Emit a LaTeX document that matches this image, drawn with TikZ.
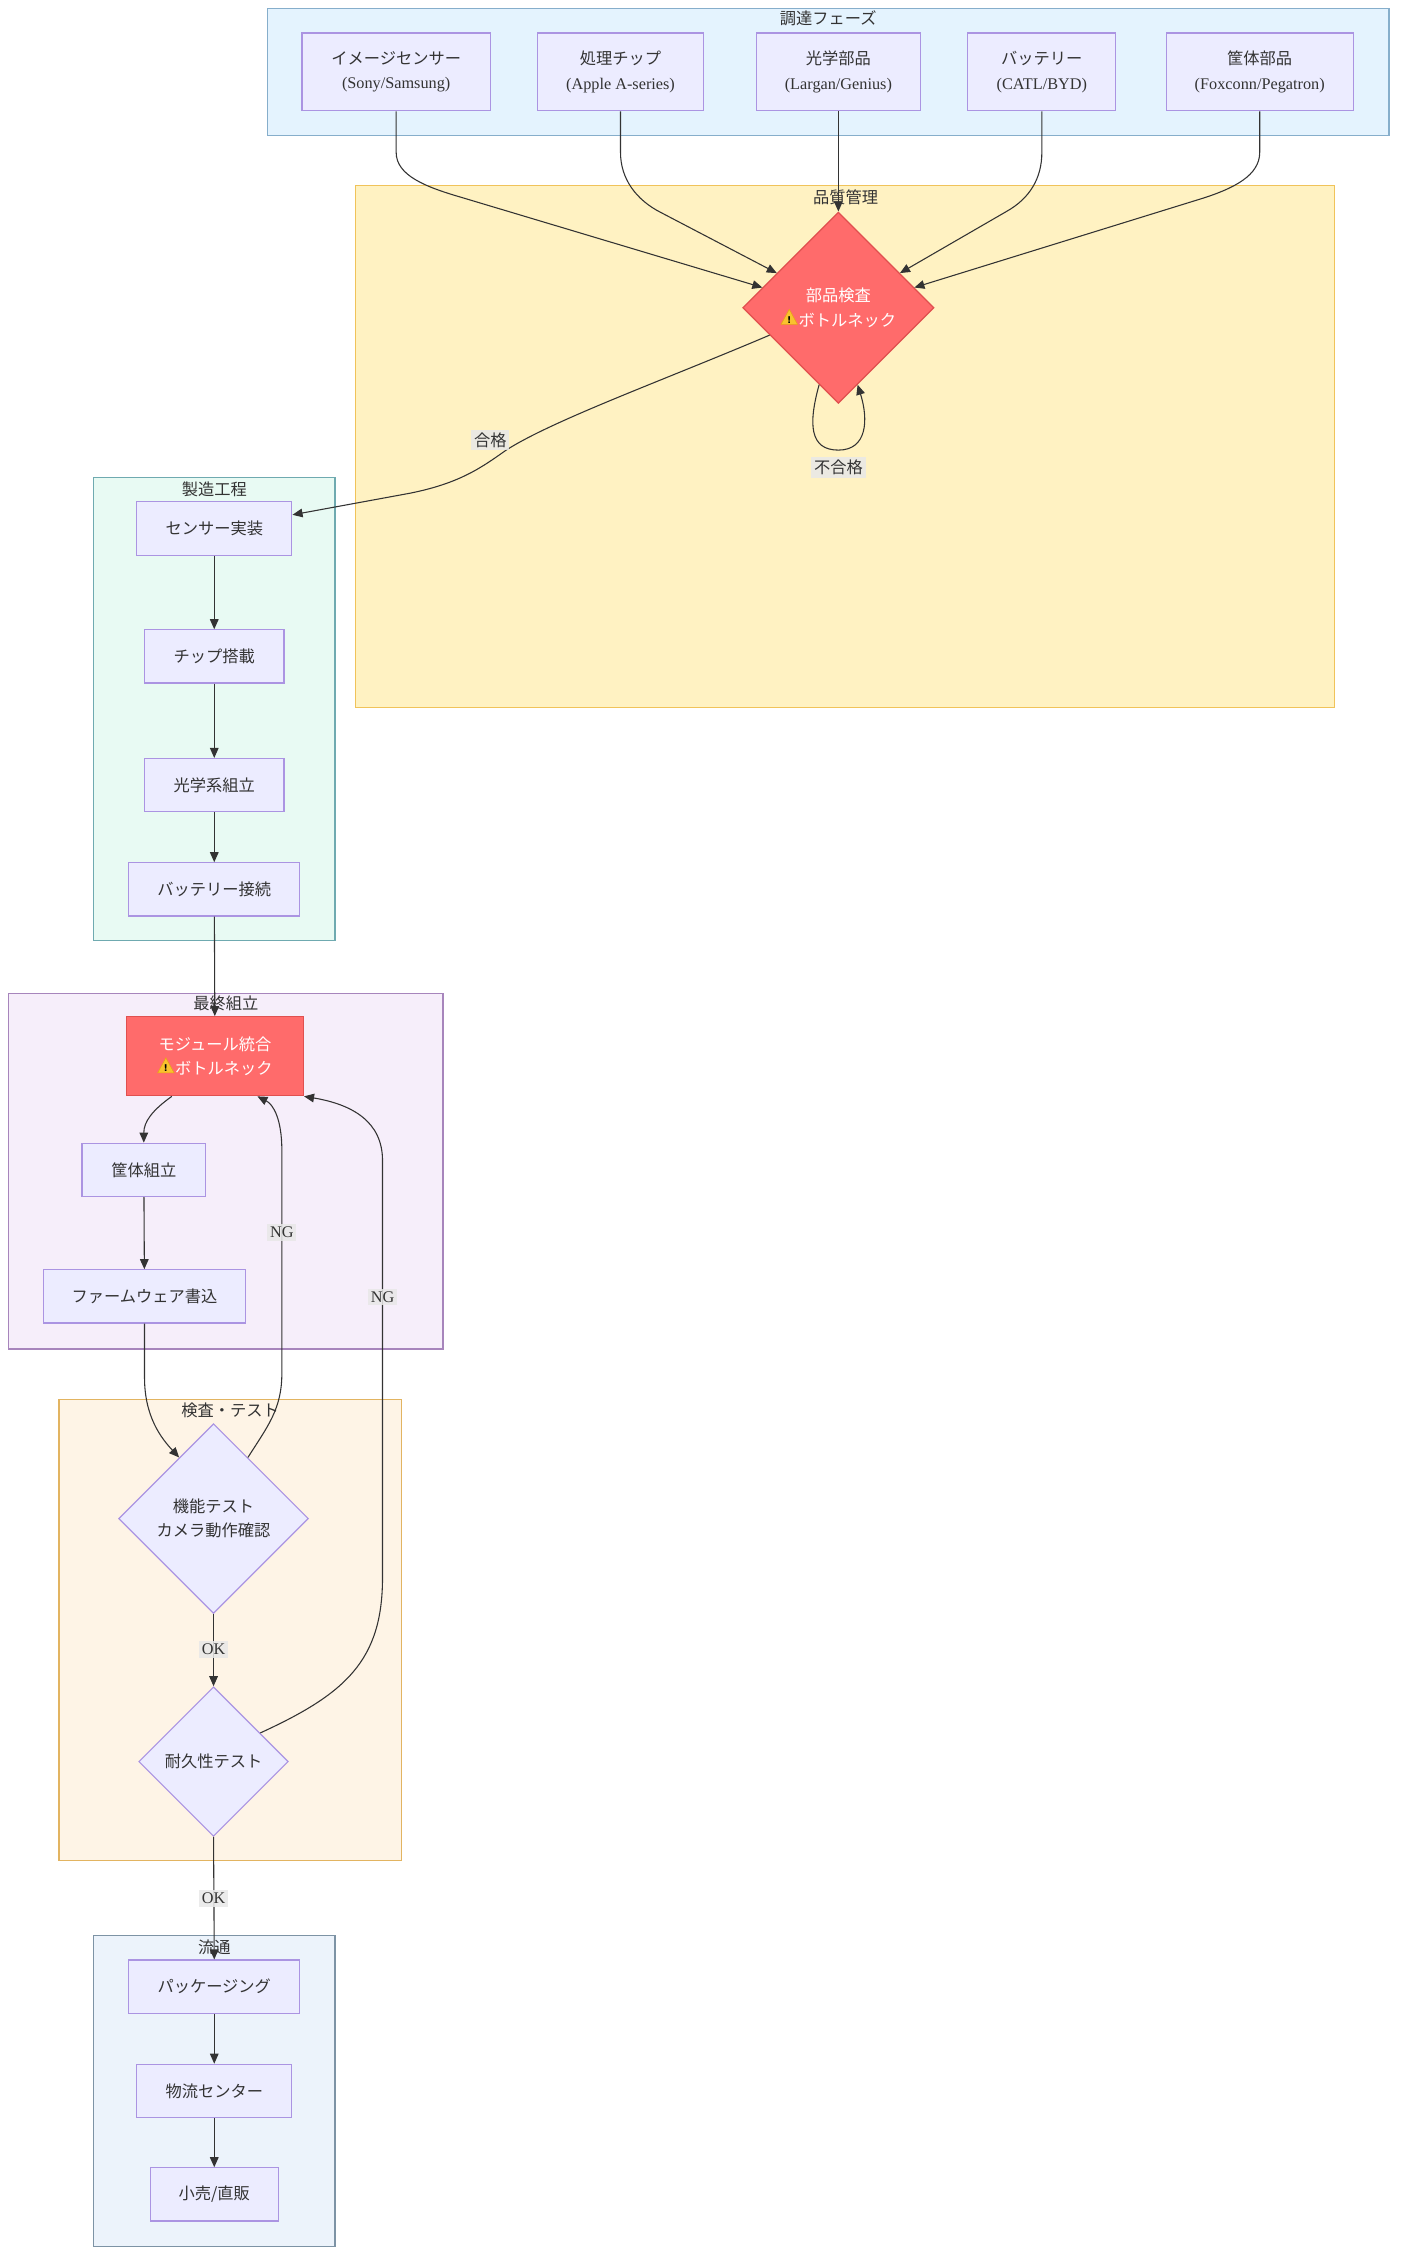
\documentclass[tikz,border=0pt]{standalone}
\usepackage{fontspec}
\setmainfont{Liberation Serif}
\newfontfamily\cjk{Noto Sans CJK JP}
\newfontfamily\dvs{DejaVu Sans}
\usetikzlibrary{shapes.geometric,arrows.meta,calc}
\definecolor{txt}{HTML}{333333}
\definecolor{edgeC}{HTML}{333333}
\definecolor{nodeF}{HTML}{ECECFF}
\definecolor{nodeS}{HTML}{AB94E2}
\definecolor{redF}{HTML}{FF6B6B}
\definecolor{redS}{HTML}{E0504F}
\definecolor{lblF}{HTML}{E8E8E8}
\definecolor{warnY}{HTML}{F9C22E}
\definecolor{warnO}{HTML}{E8A317}
\definecolor{cAF}{HTML}{E4F3FE}\definecolor{cAS}{HTML}{86AECB}
\definecolor{cBF}{HTML}{FFF2C2}\definecolor{cBS}{HTML}{F0C35A}
\definecolor{cCF}{HTML}{E8FAF3}\definecolor{cCS}{HTML}{6FAAB0}
\definecolor{cDF}{HTML}{F6EEFA}\definecolor{cDS}{HTML}{A785BC}
\definecolor{cEF}{HTML}{FEF4E6}\definecolor{cES}{HTML}{E2B461}
\definecolor{cFF}{HTML}{ECF3FB}\definecolor{cFS}{HTML}{7D93A5}
\newcommand\warnsign{\tikz[baseline=-1pt]\node[isosceles triangle, isosceles triangle apex angle=62, isosceles triangle stretches, shape border rotate=90, fill=warnY, draw=warnO, line width=0.4pt, inner sep=0.5pt, minimum height=10.5pt, minimum width=11.5pt, anchor=south, text=black, font=\dvs\bfseries\fontsize{6.5}{6.5}\selectfont] (wsign) {!};\hspace{0.5pt}}
\begin{document}
\begin{tikzpicture}[x=1pt,y=-1pt,
  every node/.style={font=\fontsize{11.3}{17}\selectfont, text=txt},
  box/.style={draw=nodeS, fill=nodeF, line width=0.8pt, rectangle, inner sep=0pt, align=center, minimum height=37pt},
  redbox/.style={box, draw=redS, fill=redF, text=white},
  dia/.style={diamond, aspect=1, draw=nodeS, fill=nodeF, line width=0.8pt, inner sep=0pt, align=center},
  reddia/.style={dia, draw=redS, fill=redF, text=white},
  cluster/.style={line width=0.9pt},
  ctitle/.style={inner sep=0pt, anchor=center},
  edge/.style={draw=edgeC, line width=0.75pt, -{Triangle[length=7pt,width=6pt]}},
  lbl/.style={fill=lblF, fill opacity=0.85, text opacity=1, inner sep=2pt}
]
\useasboundingbox (0,0) rectangle (975,1573);
% clusters
\path[cluster, fill=cAF, draw=cAS] (186,6) rectangle (966,94);
\path[cluster, fill=cBF, draw=cBS] (247,129) rectangle (928,492);
\path[cluster, fill=cCF, draw=cCS] (65,332) rectangle (233,654);
\path[cluster, fill=cDF, draw=cDS] (6,691) rectangle (308,938);
\path[cluster, fill=cEF, draw=cES] (41,973) rectangle (279,1294);
\path[cluster, fill=cFF, draw=cFS] (65,1346) rectangle (233,1562);
\node[ctitle] (tA) at (576,13) {\cjk 調達フェーズ};
\node[ctitle] (tB) at (588,137) {\cjk 品質管理};
\node[ctitle] (tC) at (149,340) {\cjk 製造工程};
\node[ctitle] (tD) at (157,698) {\cjk 最終組立};
\node[ctitle] (tE) at (160,981) {\cjk 検査・テスト};
\node[ctitle] (tF) at (149,1354) {\cjk 流通};
% supplier nodes
\node[box, minimum width=131pt, minimum height=54pt] (s1) at (275.5,50) {{\cjk イメージセンサー}\\(Sony/Samsung)};
\node[box, minimum width=115pt, minimum height=54pt] (s2) at (431.5,50) {{\cjk 処理チップ}\\(Apple A-series)};
\node[box, minimum width=114pt, minimum height=54pt] (s3) at (583,50) {{\cjk 光学部品}\\(Largan/Genius)};
\node[box, minimum width=103pt, minimum height=54pt] (s4) at (724.5,50) {{\cjk バッテリー}\\(CATL/BYD)};
\node[box, minimum width=130pt, minimum height=54pt] (s5) at (876,50) {{\cjk 筐体部品}\\(Foxconn/Pegatron)};
% inspection
\node[reddia, minimum width=133pt, minimum height=133pt] (insp) at (583,214) {{\cjk 部品検査}\\{\warnsign\cjk ボトルネック}};
% manufacturing
\node[box, minimum width=108pt] (m1) at (149,367.5) {\cjk センサー実装};
\node[box, minimum width=97pt] (m2) at (149,456.5) {\cjk チップ搭載};
\node[box, minimum width=97pt] (m3) at (149,546) {\cjk 光学系組立};
\node[box, minimum width=119pt] (m4) at (149,618.5) {\cjk バッテリー接続};
% final assembly
\node[redbox, minimum width=123pt, minimum height=55pt] (f1) at (149.5,734.5) {{\cjk モジュール統合}\\{\warnsign\cjk ボトルネック}};
\node[box, minimum width=86pt] (f2) at (100,813.5) {\cjk 筐体組立};
\node[box, minimum width=141pt] (f3) at (100.5,901.5) {\cjk ファームウェア書込};
% tests
\node[dia, minimum width=132pt, minimum height=132pt] (t1) at (148.5,1056) {{\cjk 機能テスト}\\{\cjk カメラ動作確認}};
\node[dia, minimum width=104pt, minimum height=104pt] (t2) at (148.5,1225) {\cjk 耐久性テスト};
% distribution
\node[box, minimum width=119pt] (d1) at (149,1381.5) {\cjk パッケージング};
\node[box, minimum width=108pt] (d2) at (149,1454) {\cjk 物流センター};
\node[box, minimum width=89pt] (d3) at (149,1526) {\cjk 小売/直販};
% anchor points
\coordinate (i1) at ($(insp.west)!0.21!(insp.north)$);
\coordinate (i2) at ($(insp.west)!0.36!(insp.north)$);
\coordinate (i4) at ($(insp.east)!0.36!(insp.north)$);
\coordinate (i5) at ($(insp.east)!0.21!(insp.north)$);
\coordinate (p1) at ($(insp.west)!0.285!(insp.south)$);
\coordinate (lpA) at ($(insp.south)!0.2!(insp.west)$);
\coordinate (lpB) at ($(insp.south)!0.2!(insp.east)$);
\coordinate (ta) at ($(t1.north)!0.36!(t1.west)$);
\coordinate (tb) at ($(t1.north)!0.36!(t1.east)$);
\coordinate (tc) at ($(t2.north)!0.62!(t2.east)$);
% edges
\draw[edge] (s1.south) -- (275.5,106) .. controls (275.5,122) and (296,130) .. (320,137) -- (i1);
\draw[edge] (s2.south) -- (431.5,106) .. controls (431.5,124) and (442,139) .. (460,148) -- (i2);
\draw[edge] (s3.south) -- (insp.north);
\draw[edge] (s4.south) -- (724.5,106) .. controls (724.5,124) and (716,138) .. (700,147) -- (i4);
\draw[edge] (s5.south) -- (876,106) .. controls (876,122) and (858,131) .. (836,138) -- (i5);
\draw[edge] (p1) .. controls (460,265) and (385,292) .. (352,313) .. controls (335,325) and (320,336) .. (285,343) -- ([yshift=9.5pt]m1.east);
\draw[edge] (lpA) .. controls (562,295) and (563,313) .. (583,313) .. controls (603,313) and (604,292) .. (lpB);
\draw[edge] (m1) -- (m2);
\draw[edge] (m2) -- (m3);
\draw[edge] (m3) -- (m4);
\draw[edge] (m4) -- (f1);
\draw[edge] ([xshift=-30pt]f1.south) .. controls (106,772) and (100,780) .. (f2.north);
\draw[edge] (f2) -- (f3);
\draw[edge] (f3.south) -- (100.5,958) .. controls (100.5,985) and (112,1000) .. (ta);
\draw[edge] (tb) .. controls (186,992) and (196,980) .. (196,955) -- (196,800) .. controls (196,778) and (190,768) .. ([xshift=29.5pt]f1.south);
\draw[edge] (tc) .. controls (240,1178) and (266,1155) .. (266,1097) -- (266,807) .. controls (266,780) and (245,768) .. (f1.south east);
\draw[edge] (t1.south) -- (t2.north);
\draw[edge] (t2.south) -- (d1.north);
\draw[edge] (d1) -- (d2);
\draw[edge] (d2) -- (d3);
% edge labels
\node[lbl] (l1) at (341,306) {\cjk 合格};
\node[lbl] (l2) at (583,325) {\cjk 不合格};
\node[lbl] (l3) at (196,857) {NG};
\node[lbl] (l4) at (266,902) {NG};
\node[lbl] (l5) at (148.5,1147) {OK};
\node[lbl] (l6) at (148.5,1320) {OK};
\end{tikzpicture}
\end{document}
